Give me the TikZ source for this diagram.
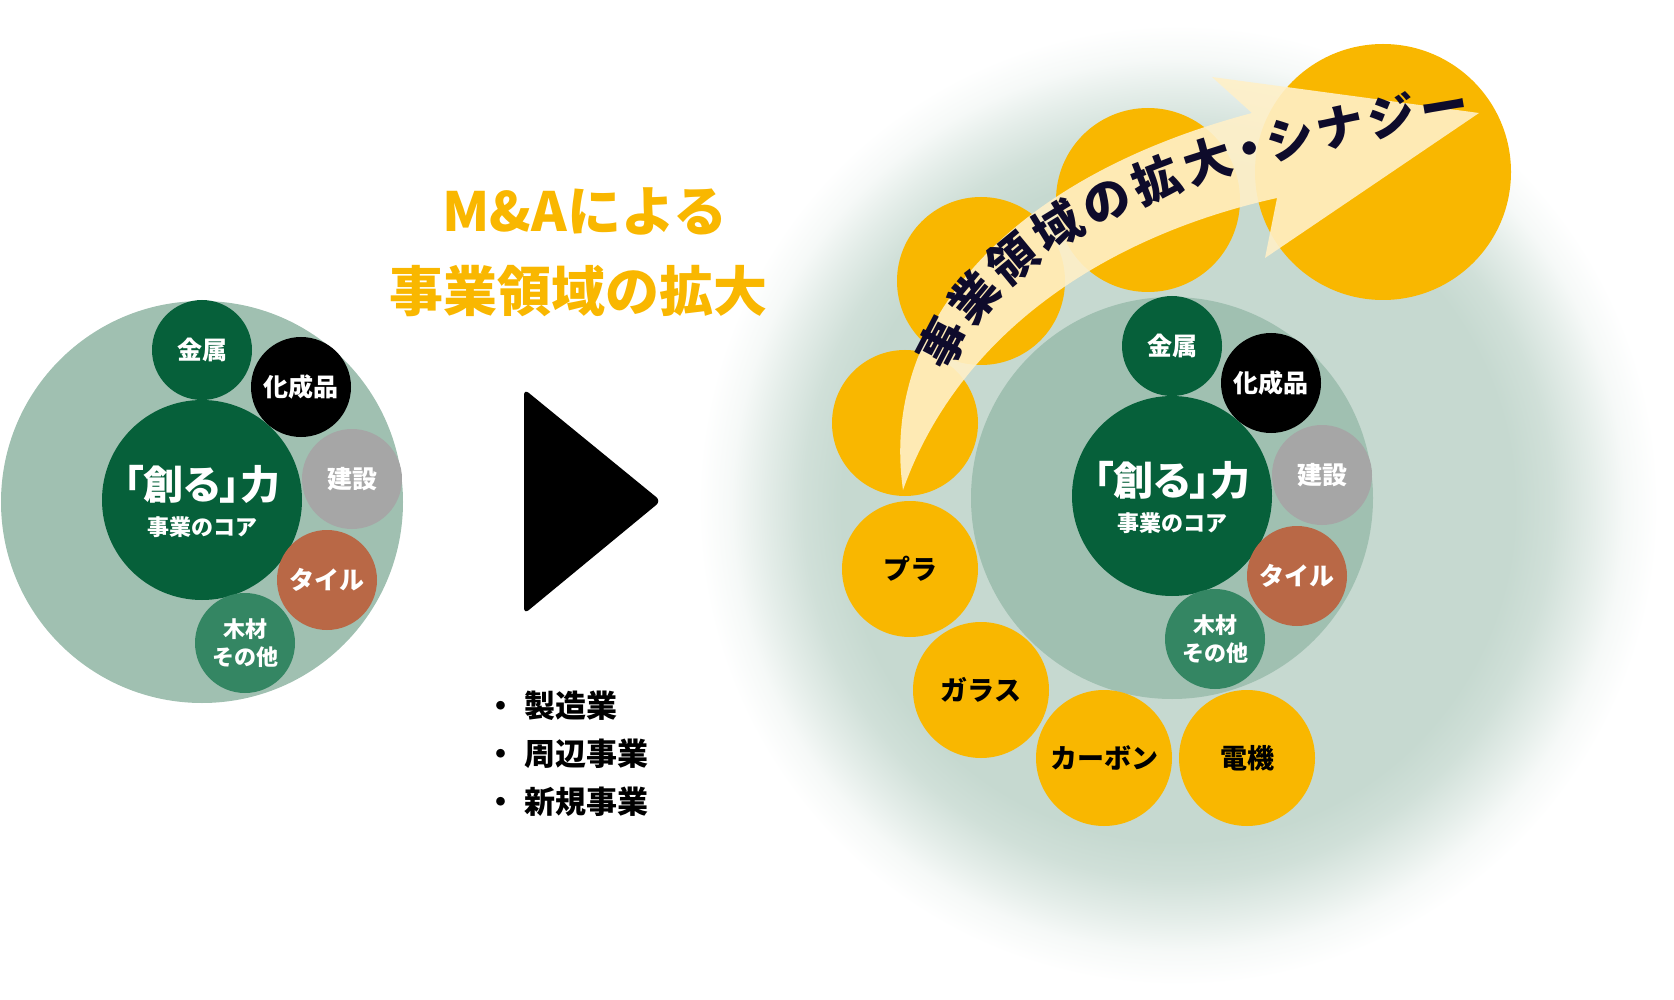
\documentclass[tikz,border=0pt]{standalone}
\usepackage{fontspec}
\setmainfont{Noto Sans CJK JP}
\newfontfamily\jpp{Noto Sans CJK JP}[RawFeature=+palt]
\usetikzlibrary{decorations.text}
\definecolor{ygold}{HTML}{F9B700}
\definecolor{dkgreen}{HTML}{06603A}
\definecolor{ltgreen}{HTML}{A0C0B1}
\definecolor{midgreen}{HTML}{348663}
\definecolor{tilec}{HTML}{B96846}
\definecolor{grayc}{HTML}{A6A6A6}
\definecolor{glowc}{HTML}{C6D9D0}
\definecolor{creamc}{HTML}{FFF0C8}
\definecolor{navyc}{HTML}{0E0B2B}
\colorlet{glowA}{glowc!82!white}
\colorlet{glowB}{glowc!48!white}
\colorlet{glowC}{glowc!16!white}
\pgfdeclareradialshading{glowshade}{\pgfpointorigin}{color(0bp)=(glowc); color(17.5bp)=(glowc); color(19.5bp)=(glowA); color(21.5bp)=(glowB); color(23.25bp)=(glowC); color(25bp)=(white); color(50bp)=(white)}
\newcommand\arrowfont{\jpp\bfseries\fontsize{48}{48}\selectfont}
\begin{document}
\begin{tikzpicture}[x=1pt,y=-1pt,
  disc/.style={circle,inner sep=0pt,minimum size=#1},
  wlbl/.style={text=white,font=\bfseries\fontsize{25}{28}\selectfont},
  slbl/.style={text=white,align=center,font=\bfseries\fontsize{22}{28}\selectfont},
  bigtxt/.style={text=white,font=\jpp\bfseries\fontsize{40}{44}\selectfont},
  subtxt/.style={text=white,font=\bfseries\fontsize{22}{26}\selectfont},
  ylbl/.style={text=black,font=\bfseries\fontsize{27}{30}\selectfont},
  ttl/.style={text=ygold,font=\bfseries\fontsize{54}{60}\selectfont},
  blt/.style={anchor=west,text=black,font=\bfseries\fontsize{31}{34}\selectfont}]
\useasboundingbox (0,0) rectangle (1674,1000);
% background glow
\shade[shading=glowshade] (1178,505) circle (480pt);

% ---------- left cluster ----------
\node[disc=402pt,fill=ltgreen] (Lbig) at (202,502) {};
\node[disc=200pt,fill=dkgreen] (Lcore) at (202,500) {};
\node[bigtxt] (Lcoret) at ([yshift=16pt]Lcore.center) {「創る」力};
\node[subtxt] (Lcores) at ([yshift=-27pt]Lcore.center) {事業のコア};
\node[disc=100pt,fill=dkgreen,wlbl] (Lkin) at (202,350) {金属};
\node[disc=100pt,fill=black,wlbl] (Lkas) at (301,387) {化成品};
\node[disc=100pt,fill=grayc,wlbl] (Lken) at (352,479) {建設};
\node[disc=100pt,fill=tilec,wlbl] (Ltil) at (327,580) {タイル};
\node[disc=100pt,fill=midgreen,slbl] (Lwod) at (245,643) {木材\\その他};

% ---------- middle ----------
\node[ttl] (t1) at (585,211) {M\&Aによる};
\node[ttl] (t2) at (578,291) {事業領域の拡大};
\fill[black,rounded corners=6pt] (524,389) -- (661,501) -- (524,614) -- cycle;
\node[blt] (b1) at (482,706) {・\hspace{8pt}製造業};
\node[blt] (b2) at (482,754) {・\hspace{8pt}周辺事業};
\node[blt] (b3) at (482,802) {・\hspace{8pt}新規事業};

% ---------- right cluster ----------
\begin{scope}[shift={(970,-4)}]
\node[disc=402pt,fill=ltgreen] (Rbig) at (202,502) {};
\node[disc=200pt,fill=dkgreen] (Rcore) at (202,500) {};
\node[bigtxt] (Rcoret) at ([yshift=16pt]Rcore.center) {「創る」力};
\node[subtxt] (Rcores) at ([yshift=-27pt]Rcore.center) {事業のコア};
\node[disc=100pt,fill=dkgreen,wlbl] (Rkin) at (202,350) {金属};
\node[disc=100pt,fill=black,wlbl] (Rkas) at (301,387) {化成品};
\node[disc=100pt,fill=grayc,wlbl] (Rken) at (352,479) {建設};
\node[disc=100pt,fill=tilec,wlbl] (Rtil) at (327,580) {タイル};
\node[disc=100pt,fill=midgreen,slbl] (Rwod) at (245,643) {木材\\その他};
\end{scope}

% yellow circles
\node[disc=146pt,fill=ygold] (Y1) at (905,423) {};
\node[disc=168pt,fill=ygold] (Y2) at (981,281) {};
\node[disc=184pt,fill=ygold] (Y3) at (1148,200) {};
\node[disc=256pt,fill=ygold] (Y4) at (1383,172) {};
\node[disc=136pt,fill=ygold,ylbl] (Ypla) at (910,569) {プラ};
\node[disc=136pt,fill=ygold,ylbl] (Ygla) at (981,690) {ガラス};
\node[disc=136pt,fill=ygold,ylbl] (Ycar) at (1104,758) {カーボン};
\node[disc=136pt,fill=ygold,ylbl] (Yden) at (1247,758) {電機};

% curved arrow
\fill[creamc,fill opacity=0.9] (903,490) .. controls (880,330) and (1000,180) .. (1252,113)
  -- (1212,77) -- (1479,113) -- (1265,258) -- (1277,198)
  .. controls (1110,235) and (960,330) .. (903,490) -- cycle;
\path[decorate,decoration={text along path,
   text={|\arrowfont|事業領域の拡大・シナジー},
   text color=navyc, text align=fit to path, raise=-18pt}]
  (933,365) .. controls (980,250) and (1110,160) .. (1467,103);
\end{tikzpicture}
\end{document}
